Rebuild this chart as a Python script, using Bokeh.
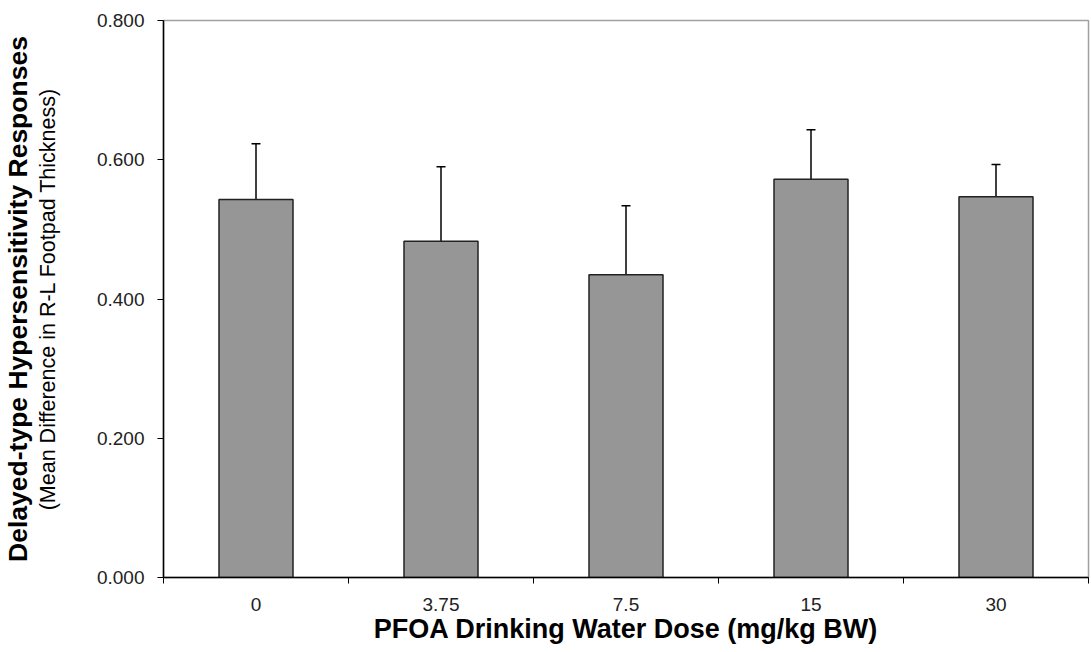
from bokeh.plotting import figure
from bokeh.models import ColumnDataSource, FixedTicker, Whisker, TeeHead, Title, Range1d
from bokeh.embed import file_html
from bokeh.resources import INLINE

doses = ["0", "3.75", "7.5", "15", "30"]
means = [0.543, 0.483, 0.435, 0.572, 0.547]
upper = [0.623, 0.590, 0.534, 0.643, 0.593]
y_ticks = [0.0, 0.2, 0.4, 0.6, 0.8]

xs = [i + 0.5 for i in range(len(doses))]
src = ColumnDataSource(dict(x=xs, top=means, upper=upper))

p = figure(width=1091, height=652, output_backend="svg", toolbar_location=None,
           x_range=Range1d(0, len(doses)), y_range=Range1d(0, 0.8),
           min_border_left=163, min_border_right=3, min_border_top=20, min_border_bottom=75)
p.background_fill_color = "white"
p.border_fill_color = "white"
p.grid.visible = False
p.outline_line_color = "#a0a0a0"
p.outline_line_width = 1.5

p.vbar(x="x", top="top", width=0.4, bottom=0, source=src,
       fill_color="#969696", line_color="#222222", line_width=1.5)

w = Whisker(base="x", lower="top", upper="upper", source=src,
            line_color="black", line_width=1.5,
            upper_head=TeeHead(size=9, line_color="black", line_width=1.5),
            lower_head=None)
p.add_layout(w)

font = "Liberation Sans"
xa = p.xaxis[0]
xa.ticker = FixedTicker(ticks=xs, minor_ticks=list(range(len(doses) + 1)))
xa.major_label_overrides = {x: d for x, d in zip(xs, doses)}
xa.major_tick_out = 0
xa.major_tick_in = 0
xa.minor_tick_out = 6
xa.minor_tick_in = 0
xa.minor_tick_line_color = "black"
xa.axis_line_color = "black"
xa.axis_line_width = 1.5
xa.major_label_text_font = font
xa.major_label_text_font_size = "19px"
xa.major_label_text_color = "#222222"
xa.major_label_standoff = 14
xa.axis_label = "PFOA Drinking Water Dose (mg/kg BW)"
xa.axis_label_text_font = font
xa.axis_label_text_font_style = "bold"
xa.axis_label_text_font_size = "27px"
xa.axis_label_text_color = "black"
xa.axis_label_standoff = 0

ya = p.yaxis[0]
ya.ticker = FixedTicker(ticks=y_ticks, minor_ticks=[])
ya.major_label_overrides = {t: f"{t:.3f}" for t in y_ticks}
ya.major_tick_out = 6
ya.major_tick_in = 0
ya.major_tick_line_color = "black"
ya.axis_line_color = "black"
ya.axis_line_width = 1.5
ya.major_label_text_font = font
ya.major_label_text_font_size = "19px"
ya.major_label_text_color = "#222222"
ya.major_label_standoff = 13
ya.axis_label = "(Mean Difference in R-L Footpad Thickness)"
ya.axis_label_text_font = font
ya.axis_label_text_font_size = "21.5px"
ya.axis_label_text_font_style = "normal"
ya.axis_label_text_color = "black"
ya.axis_label_standoff = 34

p.add_layout(Title(text="Delayed-type Hypersensitivity Responses", align="center",
                   text_font=font, text_font_size="26.5px", text_font_style="bold",
                   text_color="black", standoff=0), "left")

open("out.html", "w").write(file_html(p, INLINE))
